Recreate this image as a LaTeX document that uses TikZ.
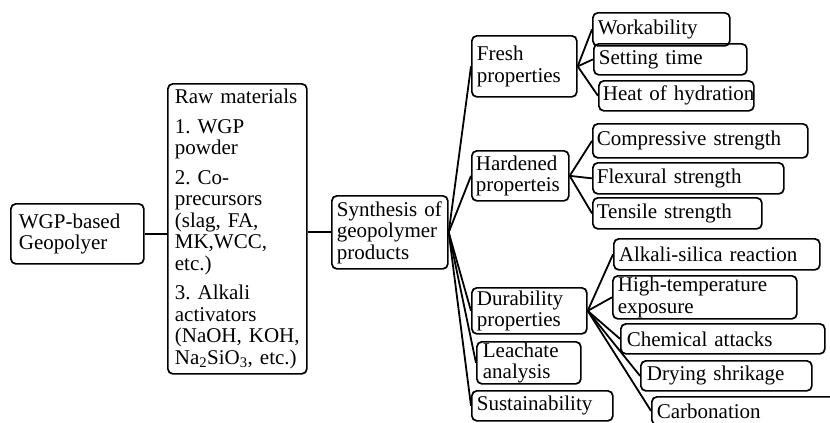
\documentclass[tikz,border=0pt]{standalone}
\usepackage{fontspec}
\setmainfont{Liberation Serif}
\begin{document}
\begin{tikzpicture}[x=1pt,y=-1pt,
  bx/.style={draw, line width=1.7pt, rounded corners=5pt, anchor=north west,
    inner ysep=0pt, align=left, font=\fontsize{21}{21.5}\selectfont},
  ln/.style={line width=1.8pt}]
\useasboundingbox (0,0) rectangle (830,423);
% left part
\node[bx, inner xsep=8pt, text width=117pt, minimum height=60pt] (wgp) at (10,203) {WGP-based\\Geopolyer};
\node[bx, inner xsep=7pt, text width=125pt, minimum height=290pt] (raw) at (167,83)
  {Raw~materials\\[8pt]
   1.~WGP\\powder\\[8pt]
   2.~Co-\\precursors\\(slag,~FA,\\MK,WCC,\\etc.)\\[8pt]
   3.~Alkali\\activators\\(NaOH,~KOH,\\Na\textsubscript{2}SiO\textsubscript{3},~etc.)};
\node[bx, inner xsep=5pt, text width=106pt, minimum height=73pt] (syn) at (331,195) {Synthesis~of\\geopolymer\\products};
% middle column
\node[bx, inner xsep=5pt, text width=95pt, minimum height=61pt] (fresh) at (471,35) {Fresh\\properties};
\node[bx, inner xsep=4pt, text width=89pt, minimum height=50pt] (hard) at (471,150) {Hardened\\properteis};
\node[bx, inner xsep=5pt, text width=105pt, minimum height=46pt] (dur) at (471,287) {Durability\\properties};
\node[bx, inner xsep=6pt, text width=92pt, minimum height=42pt] (leach) at (476,341) {Leachate\\analysis};
\node[bx, inner xsep=5pt, text width=131pt, minimum height=30pt] (sust) at (471,390) {Sustainability};
% right column
\node[bx, inner xsep=5pt, text width=127pt, minimum height=33pt] (work) at (592,12) {Workability};
\node[bx, inner xsep=5pt, text width=143pt, minimum height=31pt] (set) at (593,43) {Setting~time};
\node[bx, inner xsep=4pt, text width=147pt, minimum height=30pt] (heat) at (598,80) {\mbox{Heat of hydration}};
\node[bx, inner xsep=4pt, text width=207pt, minimum height=34pt] (comp) at (592,123) {Compressive~strength};
\node[bx, inner xsep=4pt, text width=183pt, minimum height=31pt] (flex) at (592,162) {Flexural~strength};
\node[bx, inner xsep=4pt, text width=161pt, minimum height=31pt] (tens) at (592,197) {Tensile~strength};
\node[bx, inner xsep=5pt, text width=196pt, minimum height=31pt] (alk) at (613,238) {\mbox{Alkali-silica reaction}};
\node[bx, inner xsep=5pt, text width=174pt, minimum height=43pt] (high) at (612,275) {\mbox{High-temperature}\\exposure};
\node[bx, inner xsep=6pt, text width=192pt, minimum height=30pt] (chem) at (620,323) {Chemical~attacks};
\node[bx, inner xsep=6pt, text width=159pt, minimum height=30pt] (dry) at (640,360) {Drying~shrikage};
\node[bx, inner xsep=5pt, text width=190pt, minimum height=28pt] (carb) at (651,396) {Carbonation};
% connectors
\draw[ln] (wgp.east) -- (raw.west |- wgp.east);
\draw[ln] (raw.east |- syn.west) -- (syn.west);
\foreach \t in {fresh,hard,dur,leach,sust} \draw[ln] (syn.east) -- (\t.west);
\foreach \t in {work,set,heat} \draw[ln] (fresh.east) -- (\t.west);
\foreach \t in {comp,flex,tens} \draw[ln] (hard.east) -- (\t.west);
\foreach \t in {alk,high,chem,dry,carb} \draw[ln] (dur.east) -- (\t.west);
\end{tikzpicture}
\end{document}
